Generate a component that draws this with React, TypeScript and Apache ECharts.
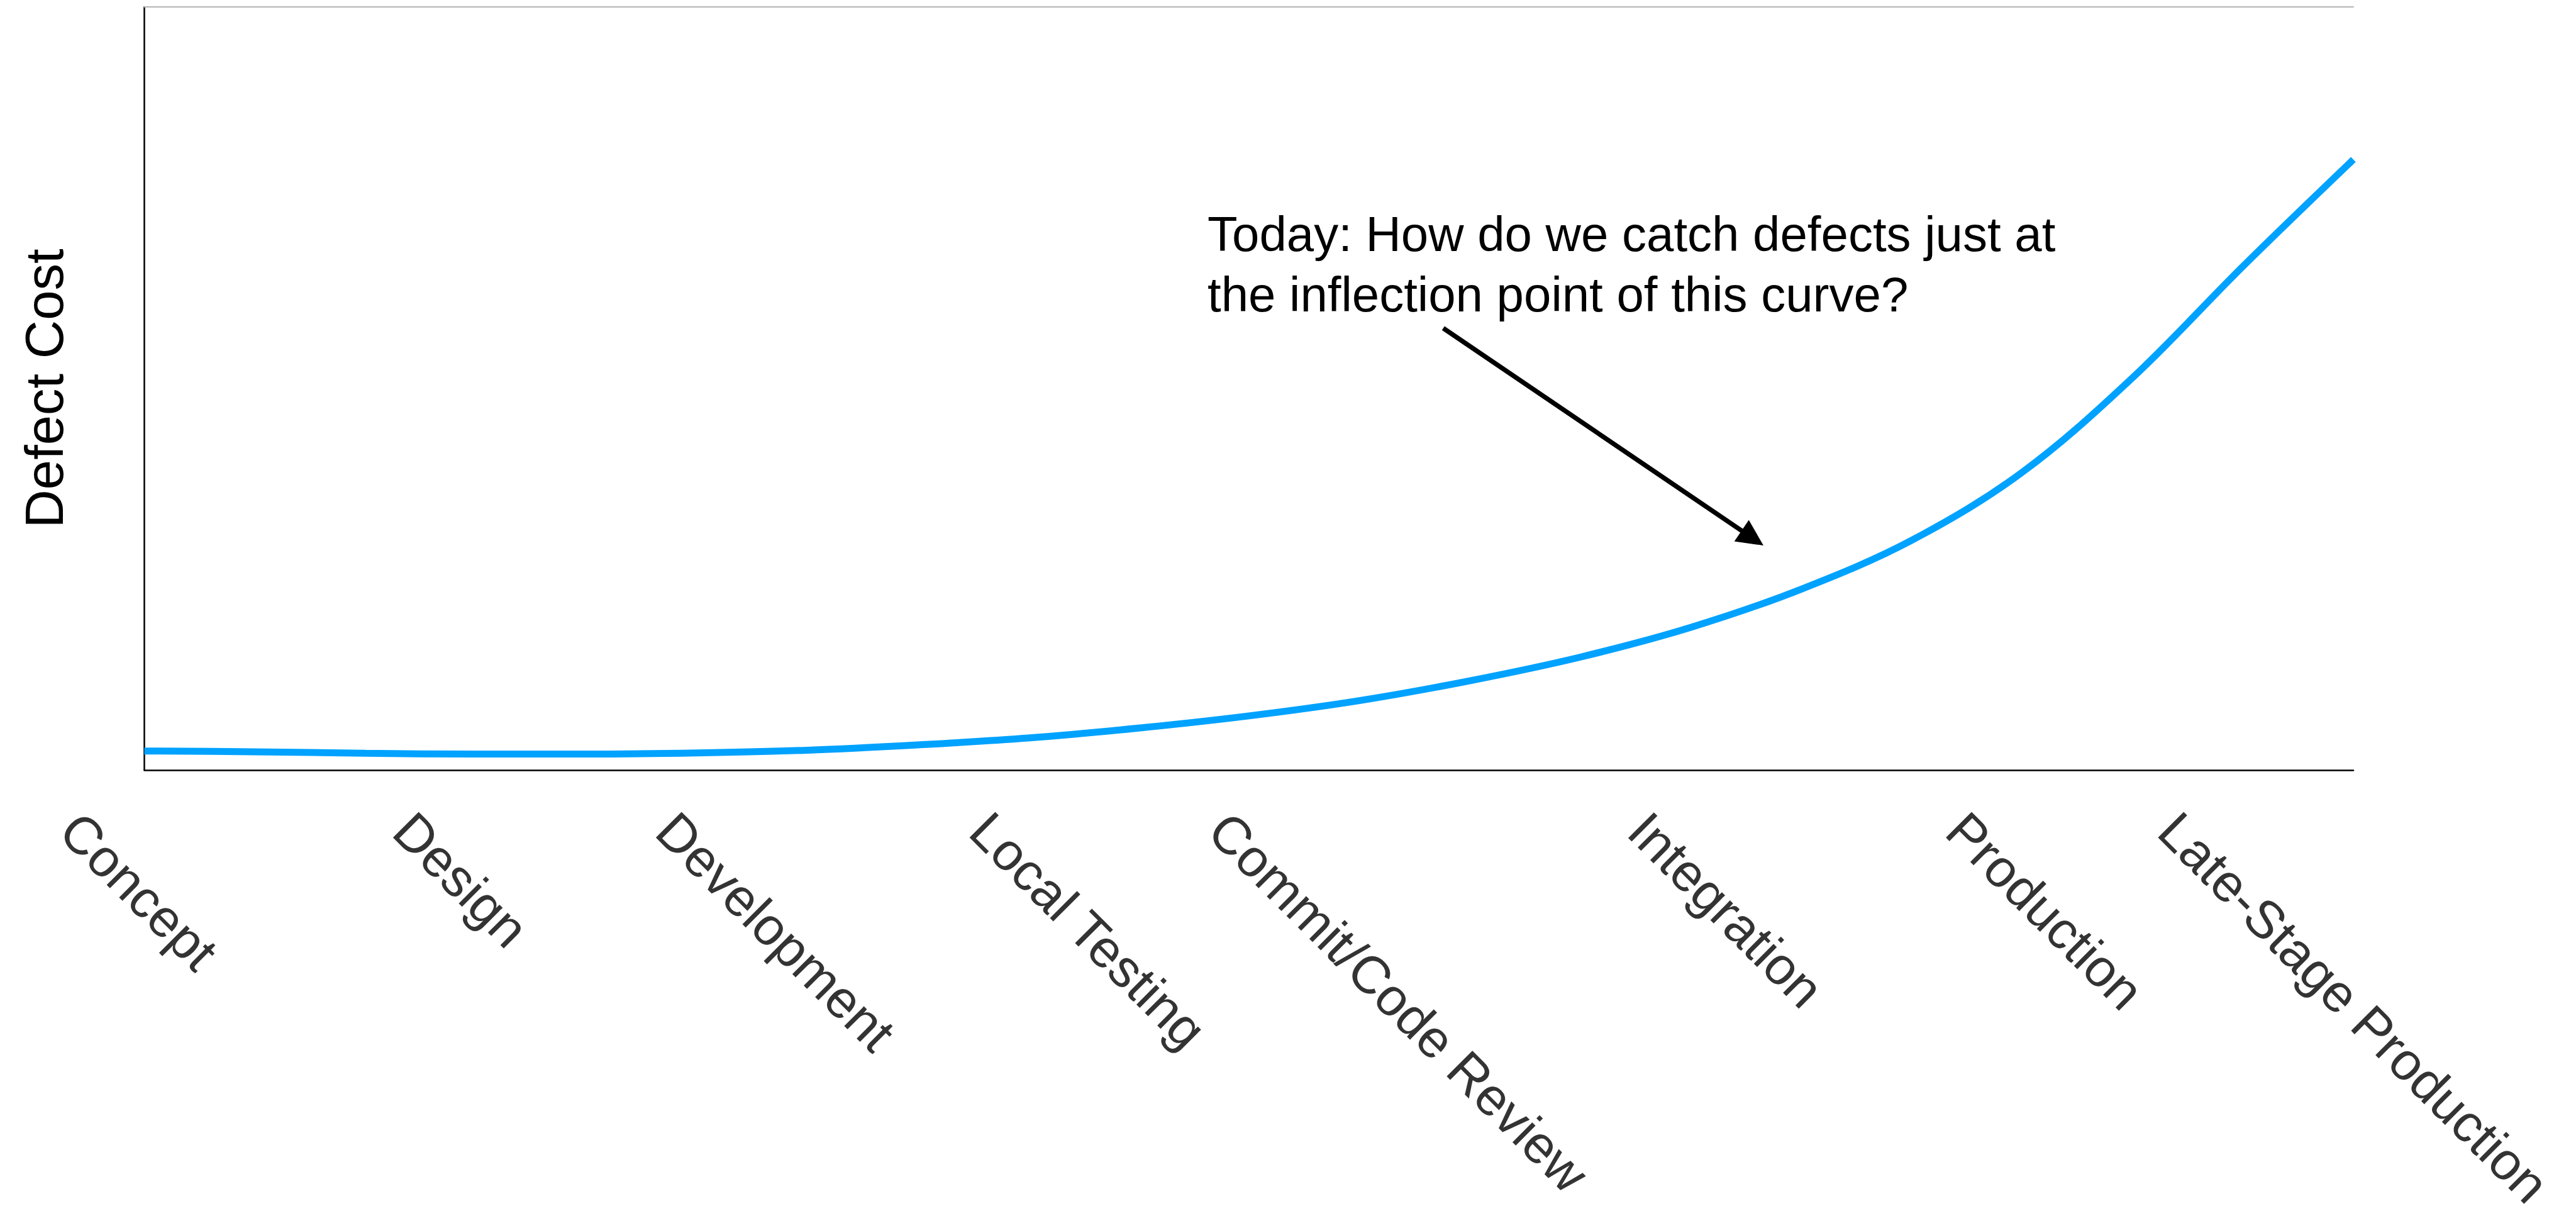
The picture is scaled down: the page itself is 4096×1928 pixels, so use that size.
import React, { useEffect, useRef } from "react";
import * as echarts from "echarts";

const W = 4096;
const H = 1928;
const FONT = "'Liberation Sans', Arial, Helvetica, sans-serif";

// Stage labels and their positions along the x axis (0 = left edge, 100 = right edge of plot)
const stageNames = [
  "Concept",
  "Design",
  "Development",
  "Local Testing",
  "Commit/Code Review",
  "Integration",
  "Production",
  "Late-Stage Production",
];
const stagePos = [-3.4, 11.7, 23.6, 37.8, 48.6, 67.6, 82.0, 91.6];

// Defect cost curve
const curveX = [0, 5, 10, 15, 20, 25, 30, 35, 40, 45, 50, 55, 60, 65, 70, 75, 80, 85, 90, 95, 100];
const curveY = [2.5, 2.4, 2.2, 2.1, 2.1, 2.25, 2.6, 3.3, 4.2, 5.5, 7.1, 9.1, 11.7, 14.8, 18.7, 23.7, 30.1, 39.0, 51.4, 66.0, 80.0];

// Annotation
const arrowStart = [58.8, 57.9];
const arrowEnd = [72.8, 30.4];
const noteLines = ["Today: How do we catch defects just at", "the inflection point of this curve?"];
const yName = "Defect Cost";

export default function App() {
  const ref = useRef<HTMLDivElement>(null);
  useEffect(() => {
    if (!ref.current) return;
    const chart = echarts.init(ref.current, undefined, { renderer: "svg", width: W, height: H });
    const option: any = {
      animation: false,
      backgroundColor: "#ffffff",
      grid: { left: 229.5, right: 354, top: 11, bottom: 704, containLabel: false },
      xAxis: [
        {
          type: "value",
          min: 0,
          max: 100,
          position: "bottom",
          axisLine: { show: true, onZero: false, lineStyle: { color: "#000000", width: 2.5 } },
          axisTick: { show: false },
          axisLabel: { show: false },
          splitLine: { show: false },
        },
        {
          type: "value",
          min: 0,
          max: 100,
          position: "top",
          axisLine: { show: true, onZero: false, lineStyle: { color: "#b4b4b4", width: 2 } },
          axisTick: { show: false },
          axisLabel: { show: false },
          splitLine: { show: false },
        },
      ],
      yAxis: {
        type: "value",
        min: 0,
        max: 100,
        axisLine: { show: true, onZero: false, lineStyle: { color: "#000000", width: 2.5 } },
        axisTick: { show: false },
        axisLabel: { show: false },
        splitLine: { show: false },
        name: yName,
        nameLocation: "middle",
        nameRotate: 90,
        nameGap: 117,
        nameTextStyle: { fontSize: 85, color: "#000000", fontFamily: FONT },
      },
      series: [
        {
          type: "line",
          xAxisIndex: 0,
          data: curveX.map((x, i) => [x, curveY[i]]),
          smooth: 0.35,
          showSymbol: false,
          lineStyle: { color: "#00a2ff", width: 11 },
          markLine: {
            silent: true,
            symbol: ["none", "triangle"],
            symbolSize: [41, 42],
            label: { show: false },
            lineStyle: { color: "#000000", width: 7.5, type: "solid" },
            itemStyle: { color: "#000000" },
            emphasis: { disabled: true },
            data: [[{ coord: arrowStart }, { coord: arrowEnd }]],
          },
        },
        {
          type: "scatter",
          xAxisIndex: 0,
          data: stagePos.map((x, i) => ({ value: [x, 0], name: stageNames[i] })),
          symbolSize: 0,
          clip: false,
          silent: true,
          label: {
            show: true,
            formatter: "{b}",
            position: "bottom",
            distance: 82,
            rotate: -45,
            align: "left",
            verticalAlign: "middle",
            fontSize: 84,
            color: "#000000",
            fontFamily: FONT,
          },
        },
      ],
      graphic: [
        {
          type: "text",
          x: 1920,
          y: 324,
          style: {
            text: noteLines.join("\n"),
            fontSize: 78,
            fontFamily: FONT,
            fill: "#000000",
            lineHeight: 96,
            align: "left",
            verticalAlign: "top",
          },
        },
      ],
    };
    chart.setOption(option);
    return () => chart.dispose();
  }, []);
  return (
    <div
      ref={ref}
      style={{ position: "fixed", left: 0, top: 0, width: W, height: H, background: "#fff" }}
    />
  );
}
